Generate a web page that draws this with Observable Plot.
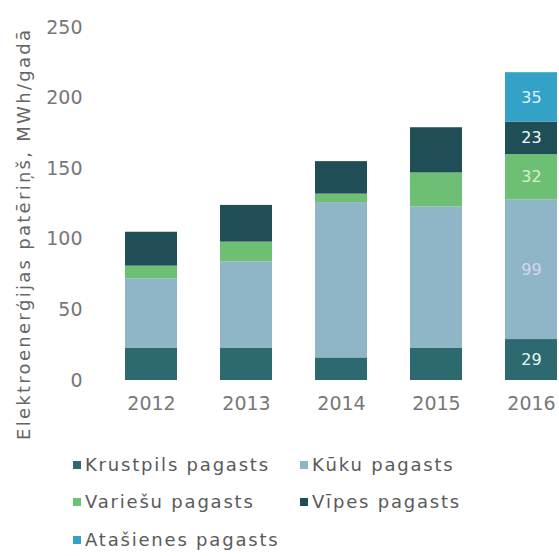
<!DOCTYPE html>
<html><head><meta charset="utf-8">
<script src="https://cdn.jsdelivr.net/npm/d3@7"></script>
<script src="https://cdn.jsdelivr.net/npm/@observablehq/plot@0.6"></script>
<style>
body{margin:0;background:#fff;overflow:hidden;font-family:"DejaVu Sans",sans-serif;}
#chart svg{overflow:visible;}
#legend{position:relative;height:131px;}
.item{position:absolute;display:flex;align-items:center;font-size:18px;line-height:22px;letter-spacing:1.8px;color:#5a5a5a;white-space:nowrap;}
.sw{width:8px;height:8px;margin-right:4px;flex:none;}
</style></head><body><div id="chart"></div><div id="legend"></div>
<script>
const years = ["2012", "2013", "2014", "2015", "2016"];
const series = ["Krustpils pagasts", "Kūku pagasts", "Variešu pagasts", "Vīpes pagasts", "Atašienes pagasts"];
const krustpils = [23, 23, 16, 23, 29];
const kuku = [49, 61, 110, 100, 99];
const variesu = [9, 14, 6, 24, 32];
const vipes = [24, 26, 23, 32, 23];
const atasienes = [0, 0, 0, 0, 35];
const yTicks = [0, 50, 100, 150, 200, 250];
const labelledYears = ["2016"];
const yTitle = "Elektroenerģijas patēriņš, MWh/gadā";

const colors = ["#2d6a70", "#8fb6c6", "#6dbf74", "#1f4e56", "#33a2c6"];
const labelColors = ["#e8f4f4", "#d6d4f0", "#d6f0cc", "#f2f6f6", "#dcf2fa"];
const values = [krustpils, kuku, variesu, vipes, atasienes];
const data = years.flatMap((y, i) => series.map((s, j) => ({year: y, series: s, value: values[j][i], lc: labelColors[j]})));

const plot = Plot.plot({
  width: 559, height: 425,
  marginLeft: 88, marginTop: 27, marginBottom: 45, marginRight: 0,
  style: {fontFamily: "DejaVu Sans", fontSize: "19px", color: "#777", background: "transparent", overflow: "visible"},
  x: {domain: years, range: [125, 557.25], paddingInner: 0.45, paddingOuter: 0, label: null, tickSize: 0, tickPadding: 16},
  y: {domain: [0, 250], ticks: yTicks, label: null, tickSize: 0, tickPadding: 6},
  color: {domain: series, range: colors},
  marks: [
    Plot.barY(data, {x: "year", y: "value", fill: "series", order: series}),
    Plot.text(data.filter(d => labelledYears.includes(d.year) && d.value > 0),
      Plot.stackY({x: "year", y: "value", z: "series", order: series, text: d => String(d.value), fill: "lc", fontSize: 16}))
  ]
});
plot.style.overflow = "visible";
d3.select(plot).append("text")
  .attr("transform", "translate(30,235) rotate(-90)")
  .attr("text-anchor", "middle")
  .attr("fill", "#666")
  .attr("font-size", 18)
  .attr("textLength", 410)
  .attr("lengthAdjust", "spacing")
  .text(yTitle);
document.getElementById("chart").append(plot);

const pos = [[73, 29], [300, 29], [73, 66], [300, 66], [73, 104]];
const leg = document.getElementById("legend");
series.forEach((s, j) => {
  const it = document.createElement("div");
  it.className = "item";
  it.style.left = pos[j][0] + "px";
  it.style.top = pos[j][1] + "px";
  const sw = document.createElement("span");
  sw.className = "sw";
  sw.style.background = colors[j];
  it.append(sw, document.createTextNode(s));
  leg.append(it);
});
</script></body></html>
